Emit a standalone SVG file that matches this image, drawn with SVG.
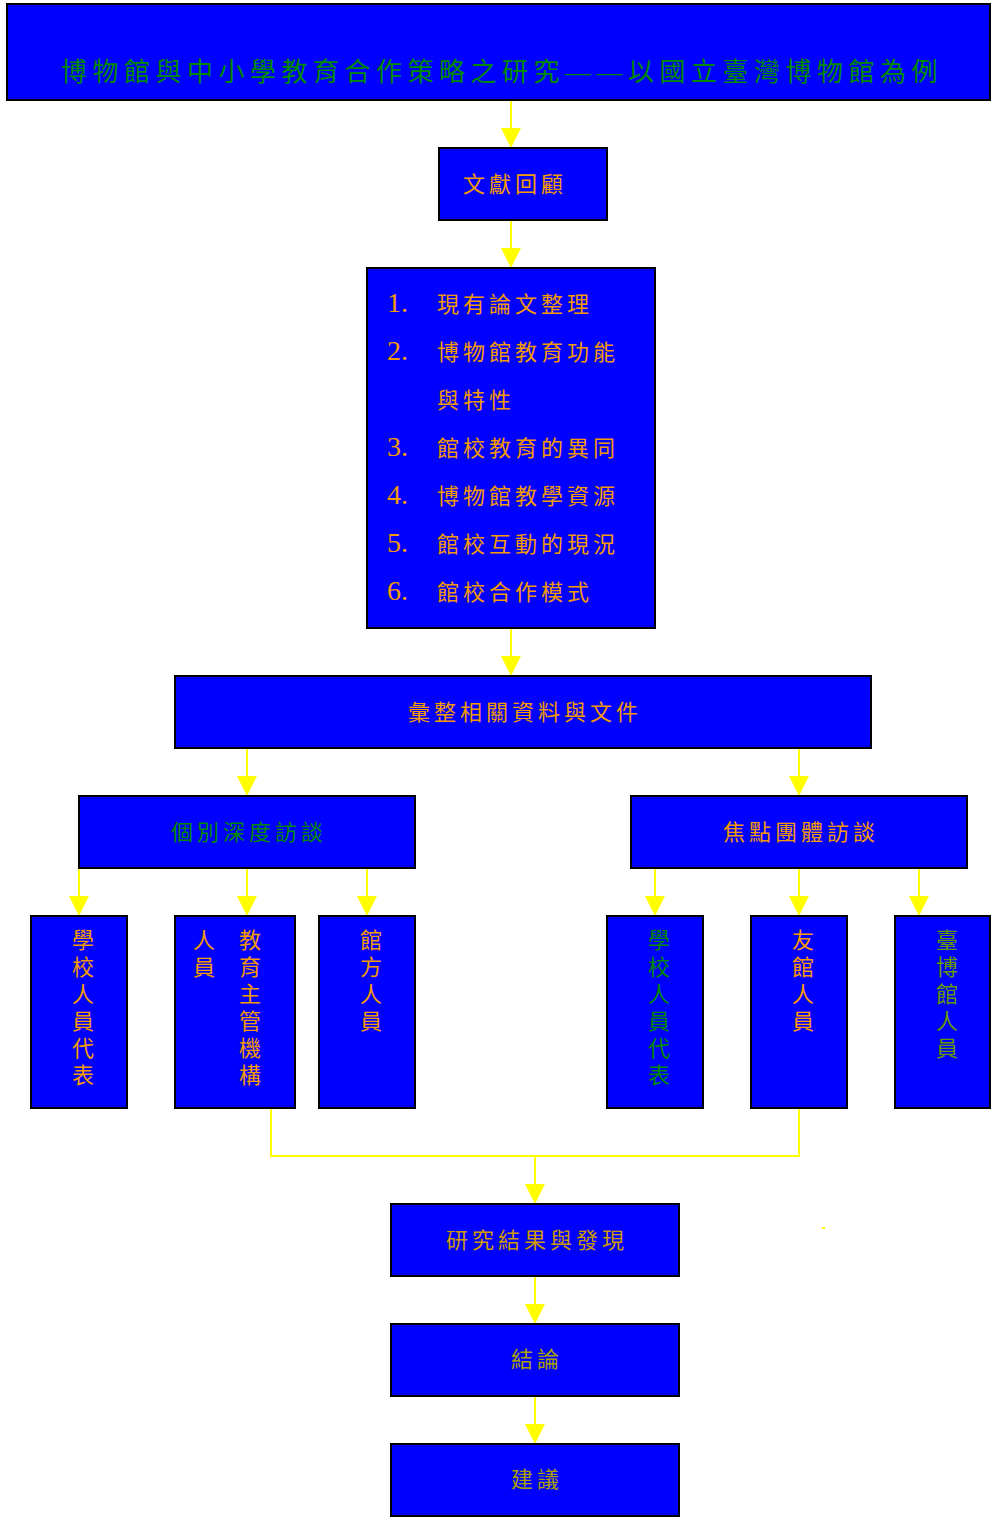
<svg xmlns="http://www.w3.org/2000/svg" width="991" height="1519" viewBox="0 0 991 1519">
<style>
.box{fill:#0000FF;stroke:#000;stroke-width:2}
text{font-family:"Liberation Serif","Noto Sans CJK TC",serif;font-size:22px;letter-spacing:4px}
.c{text-anchor:middle}
.og{fill:#F29A00}
.gr{fill:#008A00}
.num{font-size:28px;letter-spacing:0}
.conn{stroke:#FFFF00;stroke-width:2;fill:none}
</style>
<defs>
<marker id="ah" markerUnits="userSpaceOnUse" markerWidth="20" markerHeight="20" refX="20" refY="10" orient="auto" viewBox="0 0 20 20">
<path d="M0,0 L20,10 L0,20 z" fill="#FFFF00"/>
</marker>
</defs>
<rect width="991" height="1519" fill="#fff"/>
<g id="connectors">
<line class="conn" x1="511" y1="100" x2="511" y2="148" marker-end="url(#ah)"/>
<line class="conn" x1="511" y1="220" x2="511" y2="268" marker-end="url(#ah)"/>
<line class="conn" x1="511" y1="628" x2="511" y2="676" marker-end="url(#ah)"/>
<line class="conn" x1="247" y1="748" x2="247" y2="796" marker-end="url(#ah)"/>
<line class="conn" x1="799" y1="748" x2="799" y2="796" marker-end="url(#ah)"/>
<line class="conn" x1="79" y1="868" x2="79" y2="916" marker-end="url(#ah)"/>
<line class="conn" x1="247" y1="868" x2="247" y2="916" marker-end="url(#ah)"/>
<line class="conn" x1="367" y1="868" x2="367" y2="916" marker-end="url(#ah)"/>
<line class="conn" x1="655" y1="868" x2="655" y2="916" marker-end="url(#ah)"/>
<line class="conn" x1="799" y1="868" x2="799" y2="916" marker-end="url(#ah)"/>
<line class="conn" x1="919" y1="868" x2="919" y2="916" marker-end="url(#ah)"/>
<polyline class="conn" points="271,1108 271,1156 799,1156 799,1108"/>
<line class="conn" x1="535" y1="1156" x2="535" y2="1204" marker-end="url(#ah)"/>
<line class="conn" x1="535" y1="1276" x2="535" y2="1324" marker-end="url(#ah)"/>
<line class="conn" x1="535" y1="1396" x2="535" y2="1444" marker-end="url(#ah)"/>
<line class="conn" x1="822" y1="1228" x2="825" y2="1228"/>
</g>
<g id="title">
<rect class="box" x="7" y="4" width="983" height="96" stroke-width="3"/>
<text class="c gr" x="502" y="81" style="font-size:26px;letter-spacing:5.5px">博物館與中小學教育合作策略之研究——以國立臺灣博物館為例</text>
</g>
<g id="literature">
<rect class="box" x="439" y="148" width="168" height="72"/>
<text class="c og" x="515" y="192">文獻回顧</text>
</g>
<g id="list">
<rect class="box" x="367" y="268" width="288" height="360"/>
<text class="og" y="312"><tspan class="num" x="387">1.</tspan><tspan x="437">現有論文整理</tspan></text>
<text class="og" y="360"><tspan class="num" x="387">2.</tspan><tspan x="437">博物館教育功能</tspan></text>
<text class="og" y="408"><tspan x="437">與特性</tspan></text>
<text class="og" y="456"><tspan class="num" x="387">3.</tspan><tspan x="437">館校教育的異同</tspan></text>
<text class="og" y="504"><tspan class="num" x="387">4.</tspan><tspan x="437">博物館教學資源</tspan></text>
<text class="og" y="552"><tspan class="num" x="387">5.</tspan><tspan x="437">館校互動的現況</tspan></text>
<text class="og" y="600"><tspan class="num" x="387">6.</tspan><tspan x="437">館校合作模式</tspan></text>
</g>
<g id="compile">
<rect class="box" x="175" y="676" width="696" height="72"/>
<text class="c og" x="525" y="720">彙整相關資料與文件</text>
</g>
<g id="indepth">
<rect class="box" x="79" y="796" width="336" height="72"/>
<text class="c gr" x="249" y="840">個別深度訪談</text>
</g>
<g id="focus">
<rect class="box" x="631" y="796" width="336" height="72"/>
<text class="c og" x="801" y="840">焦點團體訪談</text>
</g>
<g id="school-left">
<rect class="box" x="31" y="916" width="96" height="192"/>
<text class="c og" style="letter-spacing:0"><tspan x="83" y="948">學</tspan><tspan x="83" dy="27">校</tspan><tspan x="83" dy="27">人</tspan><tspan x="83" dy="27">員</tspan><tspan x="83" dy="27">代</tspan><tspan x="83" dy="27">表</tspan></text>
</g>
<g id="edu-authority">
<rect class="box" x="175" y="916" width="120" height="192"/>
<text class="c og" style="letter-spacing:0"><tspan x="250" y="948">教</tspan><tspan x="250" dy="27">育</tspan><tspan x="250" dy="27">主</tspan><tspan x="250" dy="27">管</tspan><tspan x="250" dy="27">機</tspan><tspan x="250" dy="27">構</tspan></text>
<text class="c og" style="letter-spacing:0"><tspan x="204" y="948">人</tspan><tspan x="204" dy="27">員</tspan></text>
</g>
<g id="museum-staff">
<rect class="box" x="319" y="916" width="96" height="192"/>
<text class="c og" style="letter-spacing:0"><tspan x="371" y="948">館</tspan><tspan x="371" dy="27">方</tspan><tspan x="371" dy="27">人</tspan><tspan x="371" dy="27">員</tspan></text>
</g>
<g id="school-right">
<rect class="box" x="607" y="916" width="96" height="192"/>
<text class="c gr" style="letter-spacing:0"><tspan x="659" y="948">學</tspan><tspan x="659" dy="27">校</tspan><tspan x="659" dy="27">人</tspan><tspan x="659" dy="27">員</tspan><tspan x="659" dy="27">代</tspan><tspan x="659" dy="27">表</tspan></text>
</g>
<g id="friend-museum">
<rect class="box" x="751" y="916" width="96" height="192"/>
<text class="c" fill="#FF9900" style="letter-spacing:0"><tspan x="803" y="948">友</tspan><tspan x="803" dy="27">館</tspan><tspan x="803" dy="27">人</tspan><tspan x="803" dy="27">員</tspan></text>
</g>
<g id="ntm-staff">
<rect class="box" x="895" y="916" width="95" height="192"/>
<text class="c" fill="#669900" style="letter-spacing:0"><tspan x="947" y="948">臺</tspan><tspan x="947" dy="27">博</tspan><tspan x="947" dy="27">館</tspan><tspan x="947" dy="27">人</tspan><tspan x="947" dy="27">員</tspan></text>
</g>
<g id="results">
<rect class="box" x="391" y="1204" width="288" height="72"/>
<text class="c" fill="#CC9900" x="537" y="1248">研究結果與發現</text>
</g>
<g id="conclusion">
<rect class="box" x="391" y="1324" width="288" height="72"/>
<text class="c" fill="#A8A000" x="537" y="1367">結論</text>
</g>
<g id="suggestion">
<rect class="box" x="391" y="1444" width="288" height="72"/>
<text class="c" fill="#A8A000" x="537" y="1487">建議</text>
</g>
</svg>
